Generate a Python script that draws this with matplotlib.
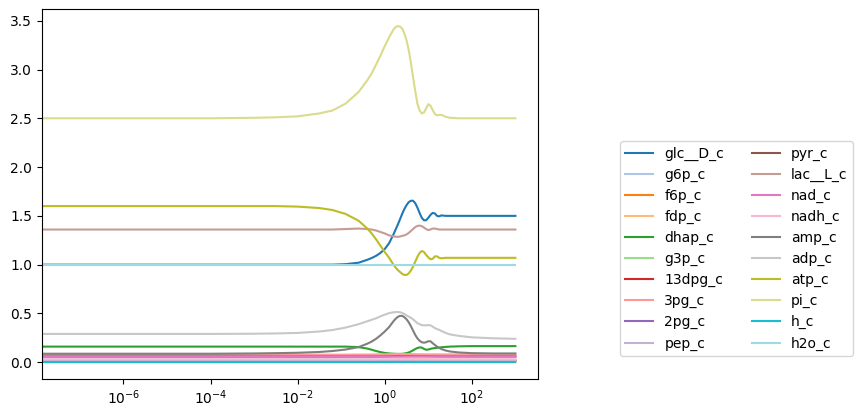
import numpy as np
import matplotlib
matplotlib.use('Agg')
import matplotlib.pyplot as plt

# log10 of time points (rows of 10)
LOG_T_FINE = [-8, -4, -3, -2.5, -2, -1.5, -1.2, -0.9, -0.6, -0.4,
              -0.3, -0.2, -0.1, 0.0, 0.1, 0.2, 0.25, 0.3, 0.35, 0.4,
              0.45, 0.5, 0.55, 0.6, 0.65, 0.7, 0.75, 0.8, 0.85, 0.9,
              0.95, 1.0, 1.05, 1.1, 1.15, 1.2, 1.25, 1.3, 1.4, 1.5,
              1.7, 2.0, 2.5, 3.0]
LOG_T_COARSE = [-8, -1.0, -0.3, 0.0, 0.3, 0.6, 0.9, 1.2, 1.6, 3.0]

# --- fast-changing species (on LOG_T_FINE) ---
glc__D_c = [1.0, 1.0, 1.0, 1.0, 1.0, 1.0, 1.0, 1.005, 1.02, 1.05,
            1.068, 1.09, 1.12, 1.16, 1.22, 1.31, 1.36, 1.41, 1.465, 1.52,
            1.57, 1.61, 1.64, 1.655, 1.655, 1.63, 1.585, 1.53, 1.48, 1.455,
            1.455, 1.48, 1.51, 1.53, 1.525, 1.50, 1.495, 1.505, 1.50, 1.50,
            1.50, 1.50, 1.50, 1.50]
dhap_c = [0.16, 0.16, 0.16, 0.16, 0.16, 0.16, 0.16, 0.16, 0.155, 0.14,
          0.128, 0.115, 0.104, 0.095, 0.09, 0.087, 0.086, 0.085, 0.085, 0.086,
          0.089, 0.093, 0.10, 0.11, 0.122, 0.135, 0.146, 0.152, 0.15, 0.137,
          0.128, 0.13, 0.137, 0.142, 0.145, 0.148, 0.151, 0.153, 0.157, 0.16,
          0.163, 0.165, 0.165, 0.165]
lac__L_c = [1.36, 1.36, 1.36, 1.36, 1.36, 1.36, 1.36, 1.365, 1.37, 1.365,
            1.36, 1.35, 1.335, 1.32, 1.30, 1.29, 1.287, 1.285, 1.288, 1.295,
            1.30, 1.31, 1.325, 1.345, 1.365, 1.385, 1.397, 1.40, 1.395, 1.38,
            1.365, 1.355, 1.36, 1.37, 1.37, 1.365, 1.36, 1.36, 1.36, 1.36,
            1.36, 1.36, 1.36, 1.36]
amp_c = [0.087, 0.087, 0.09, 0.093, 0.097, 0.105, 0.115, 0.13, 0.155, 0.19,
         0.212, 0.24, 0.275, 0.315, 0.36, 0.42, 0.445, 0.465, 0.475, 0.475,
         0.462, 0.44, 0.41, 0.37, 0.325, 0.28, 0.245, 0.22, 0.205, 0.20,
         0.205, 0.215, 0.215, 0.195, 0.177, 0.16, 0.147, 0.135, 0.12, 0.11,
         0.10, 0.093, 0.09, 0.09]
adp_c = [0.29, 0.29, 0.292, 0.295, 0.30, 0.315, 0.33, 0.355, 0.39, 0.42,
         0.435, 0.45, 0.47, 0.488, 0.503, 0.512, 0.514, 0.515, 0.512, 0.505,
         0.494, 0.48, 0.468, 0.455, 0.44, 0.42, 0.40, 0.39, 0.38, 0.378,
         0.378, 0.381, 0.378, 0.365, 0.35, 0.34, 0.332, 0.32, 0.30, 0.285,
         0.27, 0.255, 0.245, 0.24]
atp_c = [1.60, 1.60, 1.60, 1.60, 1.595, 1.58, 1.56, 1.52, 1.45, 1.37,
         1.32, 1.26, 1.195, 1.13, 1.07, 1.00, 0.97, 0.945, 0.925, 0.905,
         0.895, 0.895, 0.91, 0.94, 0.98, 1.03, 1.08, 1.12, 1.14, 1.13,
         1.10, 1.075, 1.055, 1.06, 1.085, 1.085, 1.07, 1.065, 1.07, 1.07,
         1.07, 1.07, 1.07, 1.07]
pi_c = [2.50, 2.50, 2.505, 2.51, 2.52, 2.55, 2.58, 2.65, 2.77, 2.89,
        2.96, 3.05, 3.14, 3.24, 3.33, 3.41, 3.435, 3.445, 3.44, 3.42,
        3.37, 3.30, 3.20, 3.07, 2.92, 2.78, 2.65, 2.58, 2.55, 2.56,
        2.60, 2.645, 2.63, 2.585, 2.545, 2.53, 2.535, 2.535, 2.515, 2.505,
        2.50, 2.50, 2.50, 2.50]

# --- slow / small species (on LOG_T_COARSE) ---
g6p_c = [0.0486, 0.0486, 0.05, 0.055, 0.065, 0.072, 0.065, 0.06, 0.058, 0.058]
f6p_c = [0.0198, 0.0198, 0.02, 0.022, 0.026, 0.029, 0.026, 0.024, 0.024, 0.024]
fdp_c = [0.0146, 0.0146, 0.014, 0.012, 0.011, 0.013, 0.016, 0.015, 0.015, 0.015]
g3p_c = [0.0073, 0.0073, 0.007, 0.006, 0.006, 0.007, 0.008, 0.0075, 0.0075, 0.0075]
_13dpg_c = [0.0002, 0.0002, 0.0002, 0.0002, 0.0002, 0.0002, 0.0002, 0.0002, 0.0002, 0.0002]
_3pg_c = [0.0773, 0.0773, 0.079, 0.082, 0.085, 0.083, 0.08, 0.08, 0.08, 0.08]
_2pg_c = [0.0113, 0.0113, 0.0115, 0.012, 0.0125, 0.012, 0.0117, 0.0117, 0.0117, 0.0117]
pep_c = [0.017, 0.017, 0.017, 0.018, 0.019, 0.018, 0.0175, 0.0175, 0.0175, 0.0175]
pyr_c = [0.06, 0.06, 0.06, 0.061, 0.062, 0.062, 0.061, 0.06, 0.06, 0.06]
nad_c = [0.0589, 0.0589, 0.059, 0.058, 0.057, 0.058, 0.059, 0.059, 0.059, 0.059]
nadh_c = [0.0301, 0.0301, 0.030, 0.031, 0.032, 0.031, 0.030, 0.030, 0.030, 0.030]
h_c = [0.00009, 0.00009, 0.00009, 0.00009, 0.00009, 0.00009, 0.00009, 0.00009, 0.00009, 0.00009]
h2o_c = [1.0, 1.0, 1.0, 1.0, 1.0, 1.0, 1.0, 1.0, 1.0, 1.0]

SERIES = [
    ('glc__D_c', LOG_T_FINE, glc__D_c),
    ('g6p_c', LOG_T_COARSE, g6p_c),
    ('f6p_c', LOG_T_COARSE, f6p_c),
    ('fdp_c', LOG_T_COARSE, fdp_c),
    ('dhap_c', LOG_T_FINE, dhap_c),
    ('g3p_c', LOG_T_COARSE, g3p_c),
    ('13dpg_c', LOG_T_COARSE, _13dpg_c),
    ('3pg_c', LOG_T_COARSE, _3pg_c),
    ('2pg_c', LOG_T_COARSE, _2pg_c),
    ('pep_c', LOG_T_COARSE, pep_c),
    ('pyr_c', LOG_T_COARSE, pyr_c),
    ('lac__L_c', LOG_T_FINE, lac__L_c),
    ('nad_c', LOG_T_COARSE, nad_c),
    ('nadh_c', LOG_T_COARSE, nadh_c),
    ('amp_c', LOG_T_FINE, amp_c),
    ('adp_c', LOG_T_FINE, adp_c),
    ('atp_c', LOG_T_FINE, atp_c),
    ('pi_c', LOG_T_FINE, pi_c),
    ('h_c', LOG_T_COARSE, h_c),
    ('h2o_c', LOG_T_COARSE, h2o_c),
]

fig = plt.figure(figsize=(8.61, 4.17), dpi=100)
ax = fig.add_axes([0.0488, 0.0911, 0.5761, 0.8873])

cmap = plt.get_cmap('tab20')
for i, (name, log_t, vals) in enumerate(SERIES):
    ax.plot(10.0 ** np.array(log_t), vals, color=cmap(i), label=name)

ax.set_xscale('log')
ax.set_xlim(10 ** -7.87, 10 ** 3.52)
ax.set_ylim(-0.172, 3.62)

ax.legend(ncol=2, loc='upper left', bbox_to_anchor=(1.165, 0.643), borderaxespad=0)

fig.savefig('out.png', dpi=100)
